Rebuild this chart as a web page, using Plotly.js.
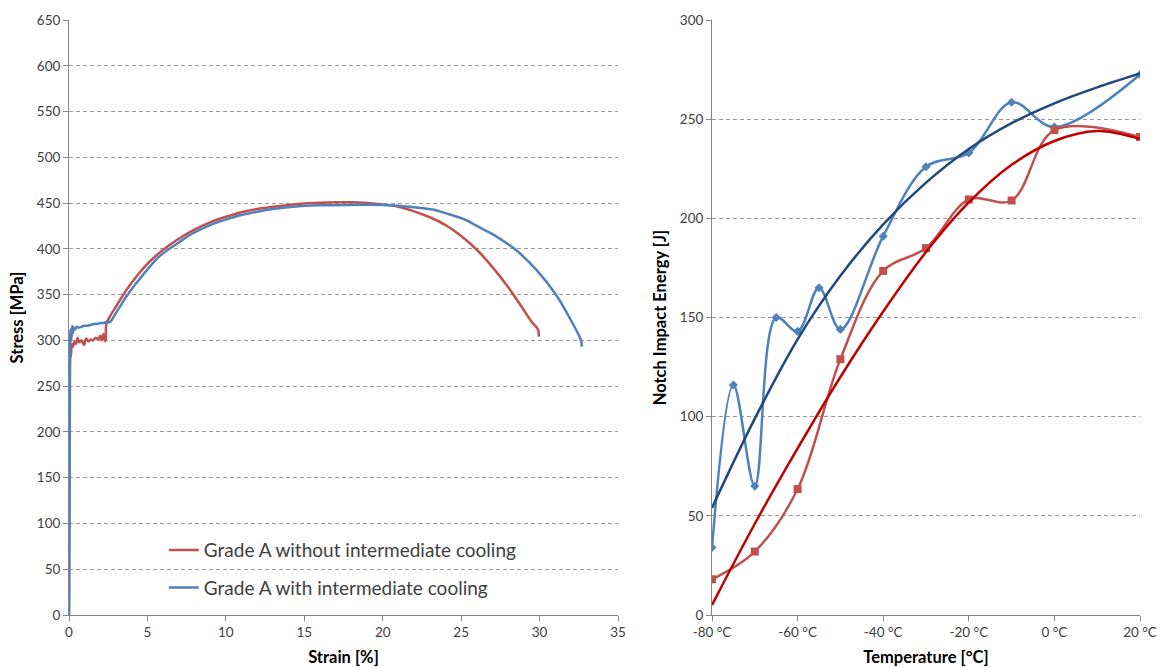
<!DOCTYPE html>
<html>
<head>
<meta charset="utf-8">
<script src="https://cdn.plot.ly/plotly-3.0.1.min.js"></script>
<style>
html,body{margin:0;padding:0;background:#fff;}
#chart{width:1162px;height:668px;}
</style>
</head>
<body>
<div id="chart"></div>
<script>
// ---- Left chart: stress-strain curves ----
const strainRed = [0, 0.03, 0.08, 0.12, 0.18, 0.25, 0.35, 0.45, 0.55, 0.65, 0.8, 0.95, 1.1, 1.25, 1.4, 1.55, 1.7, 1.85, 2.0, 2.1, 2.2, 2.3, 2.35, 2.38, 2.6, 3.0, 3.66, 4.4, 5.14, 6, 7, 8, 9, 10, 11, 12, 13, 14, 15, 16, 17, 18, 19, 20, 21, 22, 23, 24, 25, 26, 27, 28, 29, 29.5, 29.9, 29.95];
const stressRed = [0, 150, 290, 282, 296, 293, 299, 296, 303, 298, 300, 295, 302, 299, 301, 300, 303, 301, 305, 300, 307, 299, 302, 318, 326, 337, 355, 372, 386, 399, 411, 421, 429, 435, 440, 443.5, 446, 448, 449.5, 450.3, 450.8, 450.8, 450, 448.5, 446, 441, 434.5, 426, 414, 399, 380, 358, 333, 320, 312, 304];

const strainBlue = [0, 0.05, 0.1, 0.15, 0.2, 0.25, 0.3, 0.4, 0.5, 0.6, 0.8, 1.0, 1.2, 1.4, 1.6, 1.8, 2.0, 2.2, 2.4, 2.6, 3.0, 3.66, 4.5, 5.78, 7, 7.9, 9, 10, 11, 12.15, 13, 14.3, 16, 18, 20, 21, 22, 23.2, 24, 25.3, 26, 27, 28, 28.5, 29.8, 31.06, 32, 32.55, 32.66, 32.68];
const stressBlue = [0, 200, 312, 300, 316, 308, 314, 312, 315, 314, 315, 316, 316, 317, 318, 318, 319, 319, 320, 320, 330, 348, 367, 392, 407, 417, 426, 432, 437, 441, 443.5, 446, 447.5, 448, 448, 447, 445.5, 443, 439, 431.5, 425, 416, 405, 398.7, 377, 349.6, 322, 304, 299, 293];

const legendRed = "Grade A without intermediate cooling";
const legendBlue = "Grade A with intermediate cooling";

// ---- Right chart: notch impact energy ----
const tempsBlue = [-80, -75, -70, -65, -60, -55, -50, -40, -30, -20, -10, 0, 20];
const energyBlue = [34, 116, 65, 150, 143, 165, 144, 191, 226, 233, 258.5, 246, 272.5];
const tempsRed = [-80, -70, -60, -50, -40, -30, -20, -10, 0, 20];
const energyRed = [18, 32, 63.5, 129, 173.5, 185, 209.5, 209, 244.5, 241];
const tempsTrend = [-80, -70, -60, -50, -40, -30, -20, -10, 0, 10, 20];
const trendBlue = [54, 99, 139, 171, 197, 218, 235, 248, 258, 266, 273];
const trendRed = [5, 46, 84, 120, 153, 183, 208, 227, 239, 244, 240];

const tempTickVals = [-80, -60, -40, -20, 0, 20];
const tempTickText = ["-80 °C", "-60 °C", "-40 °C", "-20 °C", "0 °C", "20 °C"];

const RED = "#C0504D", BLUE = "#4F81BD", DKBLUE = "#1F497D", DKRED = "#C00000";
const FONT = "Lato, 'Open Sans', sans-serif";

const traces = [
  {x: strainRed, y: stressRed, type: "scatter", mode: "lines", name: legendRed,
   line: {color: RED, width: 2.5, shape: "spline", smoothing: 1},
   xaxis: "x", yaxis: "y", legendgroup: "a"},
  {x: strainBlue, y: stressBlue, type: "scatter", mode: "lines", name: legendBlue,
   line: {color: BLUE, width: 2.5, shape: "spline", smoothing: 1},
   xaxis: "x", yaxis: "y", legendgroup: "b"},
  {x: tempsBlue, y: energyBlue, type: "scatter", mode: "lines+markers", showlegend: false,
   line: {color: BLUE, width: 2.5, shape: "spline", smoothing: 1},
   marker: {symbol: "diamond", size: 7, color: BLUE},
   xaxis: "x2", yaxis: "y2"},
  {x: tempsRed, y: energyRed, type: "scatter", mode: "lines+markers", showlegend: false,
   line: {color: RED, width: 2.5, shape: "spline", smoothing: 1},
   marker: {symbol: "square", size: 8, color: RED},
   xaxis: "x2", yaxis: "y2"},
  {x: tempsTrend, y: trendBlue, type: "scatter", mode: "lines", showlegend: false,
   line: {color: DKBLUE, width: 2.5, shape: "spline", smoothing: 1},
   xaxis: "x2", yaxis: "y2"},
  {x: tempsTrend, y: trendRed, type: "scatter", mode: "lines", showlegend: false,
   line: {color: DKRED, width: 2.5, shape: "spline", smoothing: 1},
   xaxis: "x2", yaxis: "y2"}
];

const axCommon = {
  showline: true, linecolor: "#868686", linewidth: 1,
  ticks: "outside", ticklen: 5, tickcolor: "#868686",
  tickfont: {family: FONT, size: 13.5, color: "#404040"},
  zeroline: false, automargin: false
};
const titleFont = {family: FONT, size: 16.5, color: "#000"};

const layout = {
  width: 1162, height: 668,
  margin: {l: 0, r: 0, t: 0, b: 0},
  paper_bgcolor: "#fff", plot_bgcolor: "#fff",
  font: {family: FONT, color: "#404040"},
  showlegend: true,
  legend: {x: 0.141, y: 0.205, xanchor: "left", yanchor: "top",
           font: {family: FONT, size: 19, color: "#404040"},
           bgcolor: "rgba(0,0,0,0)", tracegroupgap: 10, itemwidth: 30},
  xaxis: Object.assign({}, axCommon, {
    domain: [69/1162, 618/1162], range: [0, 35], dtick: 5, tick0: 0,
    showgrid: false, anchor: "y",
    title: {text: "<b>Strain [%]</b>", font: titleFont, standoff: 12}
  }),
  yaxis: Object.assign({}, axCommon, {
    domain: [53/668, 648/668], range: [0, 650], dtick: 50, tick0: 0,
    showgrid: true, gridcolor: "#9a9a9a", griddash: "4px,3px", gridwidth: 1, anchor: "x",
    title: {text: "<b>Stress [MPa]</b>", font: titleFont, standoff: 9}
  }),
  xaxis2: Object.assign({}, axCommon, {
    domain: [712/1162, 1140/1162], range: [-80, 20], tickvals: tempTickVals, ticktext: tempTickText,
    showgrid: false, anchor: "y2",
    title: {text: "<b>Temperature [°C]</b>", font: titleFont, standoff: 12}
  }),
  yaxis2: Object.assign({}, axCommon, {
    domain: [53/668, 648/668], range: [0, 300], dtick: 50, tick0: 0,
    showgrid: true, gridcolor: "#9a9a9a", griddash: "4px,3px", gridwidth: 1, anchor: "x2",
    title: {text: "<b>Notch Impact Energy [J]</b>", font: titleFont, standoff: 9}
  })
};

Plotly.newPlot("chart", traces, layout, {displayModeBar: false, staticPlot: true});
</script>
</body>
</html>
